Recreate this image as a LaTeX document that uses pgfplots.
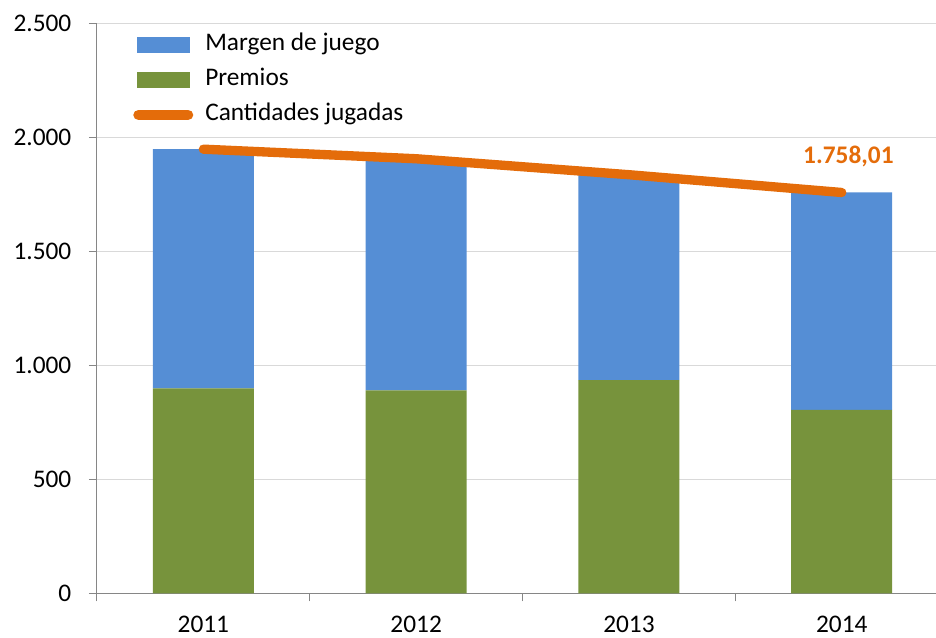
\documentclass[border=0pt]{standalone}
\usepackage{pgfplots}
\pgfplotsset{compat=1.18}
\usepackage{fontspec}
\setmainfont{Carlito}
\definecolor{cblue}{HTML}{558ED5}
\definecolor{cgreen}{HTML}{77933C}
\definecolor{corange}{HTML}{E46C0A}
\definecolor{caxis}{HTML}{868686}
\definecolor{cgrid}{HTML}{D9D9D9}
\begin{document}
\fontsize{19}{23}\selectfont
\begin{tikzpicture}
\pgfplotsset{
  common/.style={scale only axis, width=629.25pt, height=427.5pt,
    xmin=-0.5, xmax=3.443, ymin=0, ymax=2500, at={(0,0)}, anchor=south west}
}
\begin{axis}[common, name=ax,
  ybar stacked, bar width=75.75pt,
  axis lines=left, axis line style={caxis, line width=0.75pt, -},
  ytick={0,500,...,2500}, ymajorgrids, grid style={cgrid, line width=0.75pt},
  xtick={-0.5,0.5,1.5,2.5}, xticklabels={},
  extra x ticks={0,1,2,3}, extra x tick labels={2011,2012,2013,2014},
  extra x tick style={major tick length=0pt, grid=none,
    xticklabel style={yshift=-10.5pt}},
  tick align=outside, major tick length=6pt,
  tick style={caxis, line width=0.75pt},
  /pgf/number format/use comma,
  /pgf/number format/1000 sep={.},
  /pgf/number format/assume math mode=true,
  tick label style={font=\fontsize{19}{23}\selectfont},
  yticklabel style={xshift=-6.75pt},
]
\addplot[fill=cgreen, draw=none] coordinates {(0,899) (1,890) (2,935) (3,805)};
\addplot[fill=cblue, draw=none] coordinates {(0,1049) (1,1016) (2,901) (3,953.01)};
\end{axis}
\begin{axis}[common, hide axis, clip=false,
  legend cell align=left,
  legend style={at={(0,1)}, anchor=north west, xshift=27pt, yshift=-7pt,
    draw=none, fill=none, inner sep=0pt, row sep=8.25pt, column sep=9pt,
    font=\fontsize{19}{23}\selectfont,
    nodes={inner sep=0pt, text height=13pt, text depth=5pt}},
]
\addlegendimage{legend image code/.code={\fill[cblue] (0pt,-5.5pt) rectangle (39pt,5.5pt);}}
\addlegendentry{Margen de juego}
\addlegendimage{legend image code/.code={\fill[cgreen] (0pt,-5.5pt) rectangle (39pt,5.5pt);}}
\addlegendentry{Premios}
\addplot[corange, line width=7pt, line cap=round, line join=round,
  legend image code/.code={\draw[corange, line width=8pt, line cap=round] (1pt,0pt) -- (38pt,0pt);}]
  coordinates {(0,1948) (1,1906) (2,1836) (3,1758.01)};
\addlegendentry{Cantidades jugadas}
\node[font=\fontsize{19}{23}\selectfont\bfseries, text=corange, xshift=5pt, yshift=27pt] at (axis cs:3,1758.01) {1.758,01};
\end{axis}
\pgfresetboundingbox
\path ([xshift=-72.75pt,yshift=-32.8pt]ax.south west) rectangle ([yshift=17.5pt]ax.north east);
\end{tikzpicture}
\end{document}
